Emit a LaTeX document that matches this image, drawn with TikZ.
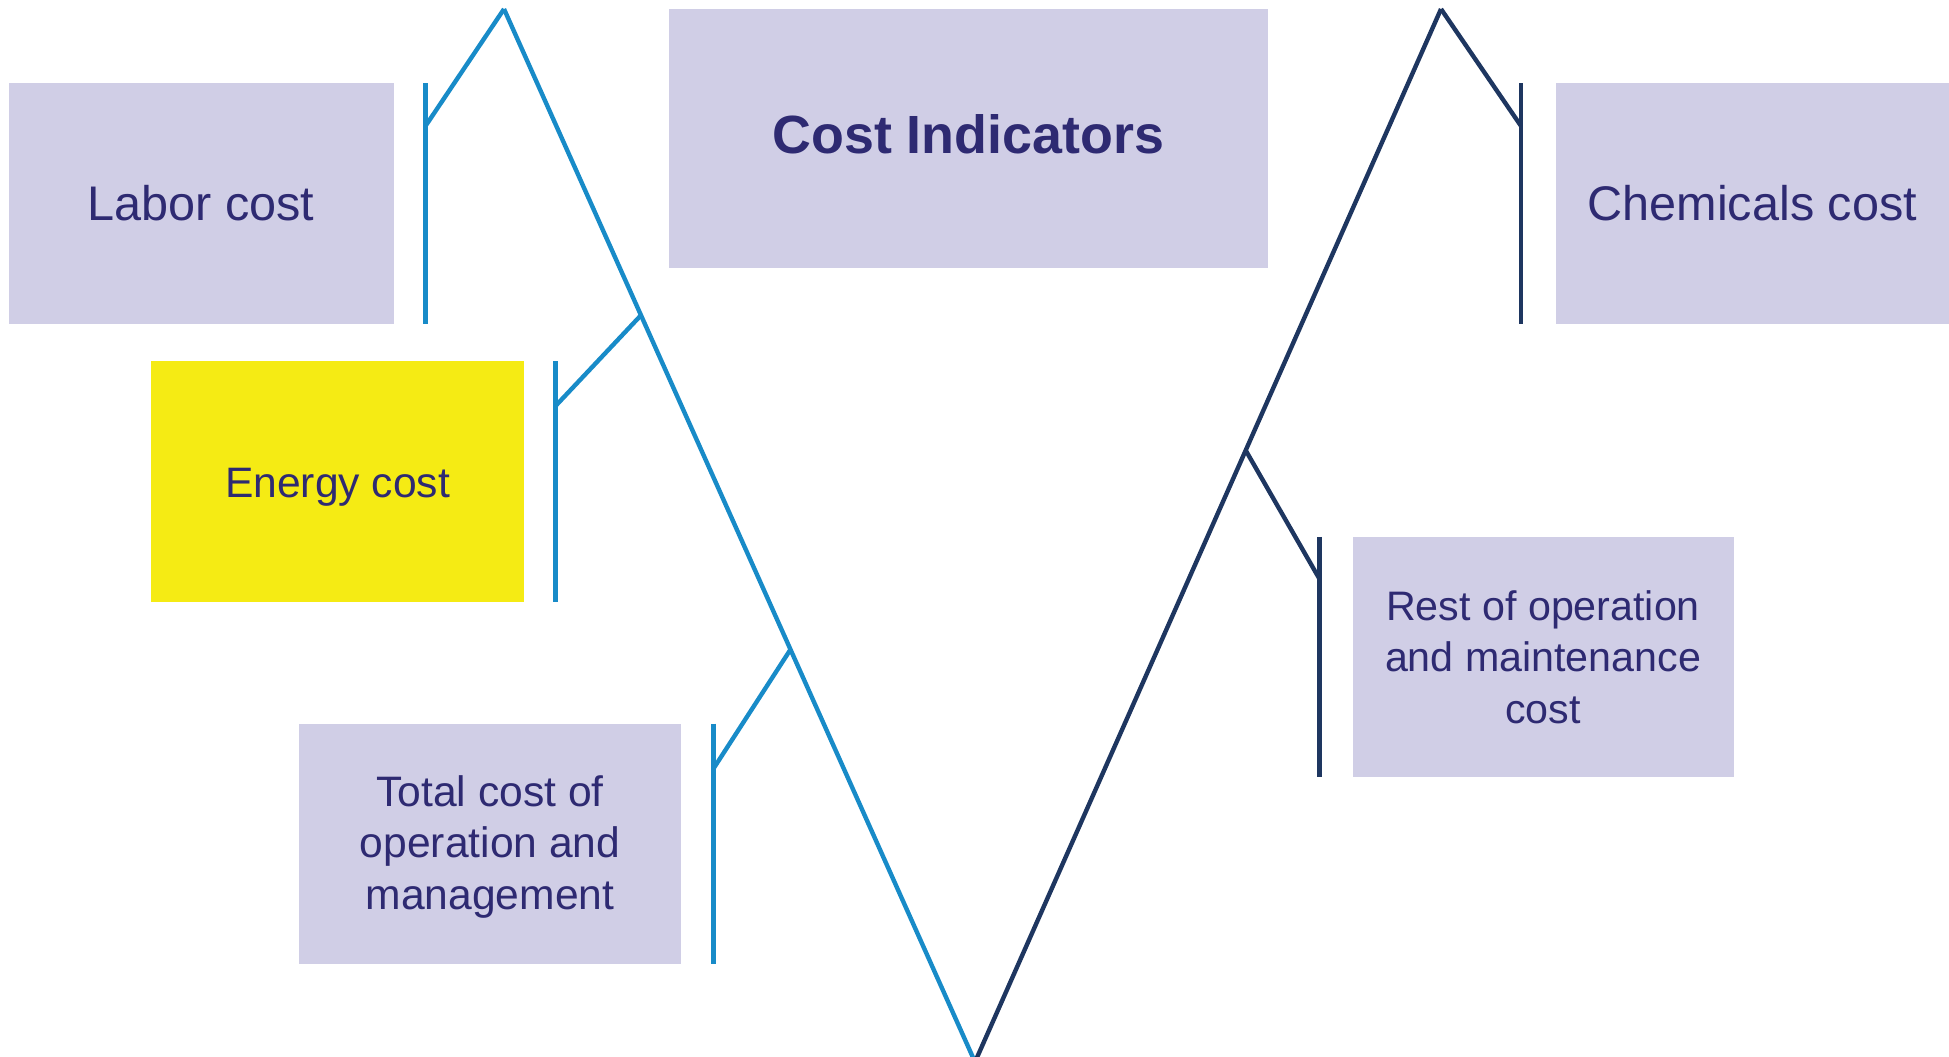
\documentclass[tikz,border=0pt]{standalone}
\usepackage{fontspec}
\setmainfont{Liberation Sans}
\definecolor{boxfill}{RGB}{208,206,230}
\definecolor{txt}{RGB}{46,42,114}
\definecolor{lblue}{RGB}{24,139,200}
\definecolor{dnavy}{RGB}{30,54,96}
\definecolor{yel}{RGB}{245,235,20}
\tikzset{
  cbox/.style={rectangle, fill=boxfill, inner sep=0pt, align=center, text=txt},
  ctext/.style={inner sep=0pt, align=center, text=txt},
  lline/.style={draw=lblue, line width=2.2pt, line join=miter},
  dline/.style={draw=dnavy, line width=2.2pt, line join=miter},
}
\begin{document}
\begin{tikzpicture}[x=0.5pt,y=-0.5pt]
\useasboundingbox (0,0) rectangle (1949,1056);
% boxes
\node[cbox, minimum width=192.4pt, minimum height=120.2pt, font=\fontsize{24.3}{29}\selectfont] (labor) at (201.1,203.6) {Labor cost};
\node[cbox, minimum width=299.5pt, minimum height=129.55pt, text height=15.5pt, text depth=0pt, font=\fontsize{26.9}{32}\selectfont\bfseries] (title) at (968.3,138.25) {Cost Indicators};
\node[cbox, minimum width=196.75pt, minimum height=120.2pt, font=\fontsize{24.3}{29}\selectfont] (chem) at (1752.25,203.6) {Chemicals cost};
\node[cbox, fill=yel, minimum width=186.8pt, minimum height=120.15pt, text height=16.4pt, text depth=0pt, font=\fontsize{21.3}{26}\selectfont] (energy) at (337.5,481.35) {Energy cost};
\node[cbox, minimum width=191.15pt, minimum height=120.15pt] (total) at (490.05,843.75) {};
\node[ctext, font=\fontsize{21.3}{25.8}\selectfont] (totaltext) at ([yshift=-1.5pt]total.center) {Total cost of\\operation and\\management};
\node[cbox, minimum width=190.55pt, minimum height=120.15pt, font=\fontsize{20.6}{25.8}\selectfont] (rest) at (1543.05,656.95) {Rest of operation\\and maintenance\\cost};
% V coordinates
\coordinate (peakL) at (504,9);
\coordinate (bot) at (975,1062);
\coordinate (peakR) at (1441,9);
\coordinate (eV) at (641.2,315);
\coordinate (tV) at (790.8,649);
\coordinate (rV) at (1245.5,450);
% bracket coordinates
\coordinate (laborTop) at (425.5,83.4);
\coordinate (laborJ) at (425.5,126);
\coordinate (laborBot) at (425.5,323.8);
\coordinate (energyTop) at (555.5,361.2);
\coordinate (energyJ) at (555.5,406);
\coordinate (energyBot) at (555.5,601.5);
\coordinate (totalTop) at (713.6,723.6);
\coordinate (totalJ) at (713.6,768.4);
\coordinate (totalBot) at (713.6,963.9);
\coordinate (chemTop) at (1521,83.4);
\coordinate (chemJ) at (1521,126);
\coordinate (chemBot) at (1521,323.8);
\coordinate (restTop) at (1319.5,536.8);
\coordinate (restJ) at (1319.5,579);
\coordinate (restBot) at (1319.5,777.1);
% V lines
\draw[lline] (peakL) -- (bot);
\draw[dline] (bot) -- (peakR);
% brackets
\draw[lline] (laborTop) -- (laborBot);
\draw[lline] (laborJ) -- (peakL);
\draw[lline] (energyTop) -- (energyBot);
\draw[lline] (energyJ) -- (eV);
\draw[lline] (totalTop) -- (totalBot);
\draw[lline] (totalJ) -- (tV);
\draw[dline] (chemTop) -- (chemBot);
\draw[dline] (chemJ) -- (peakR);
\draw[dline] (restTop) -- (restBot);
\draw[dline] (restJ) -- (rV);
\end{tikzpicture}
\end{document}
